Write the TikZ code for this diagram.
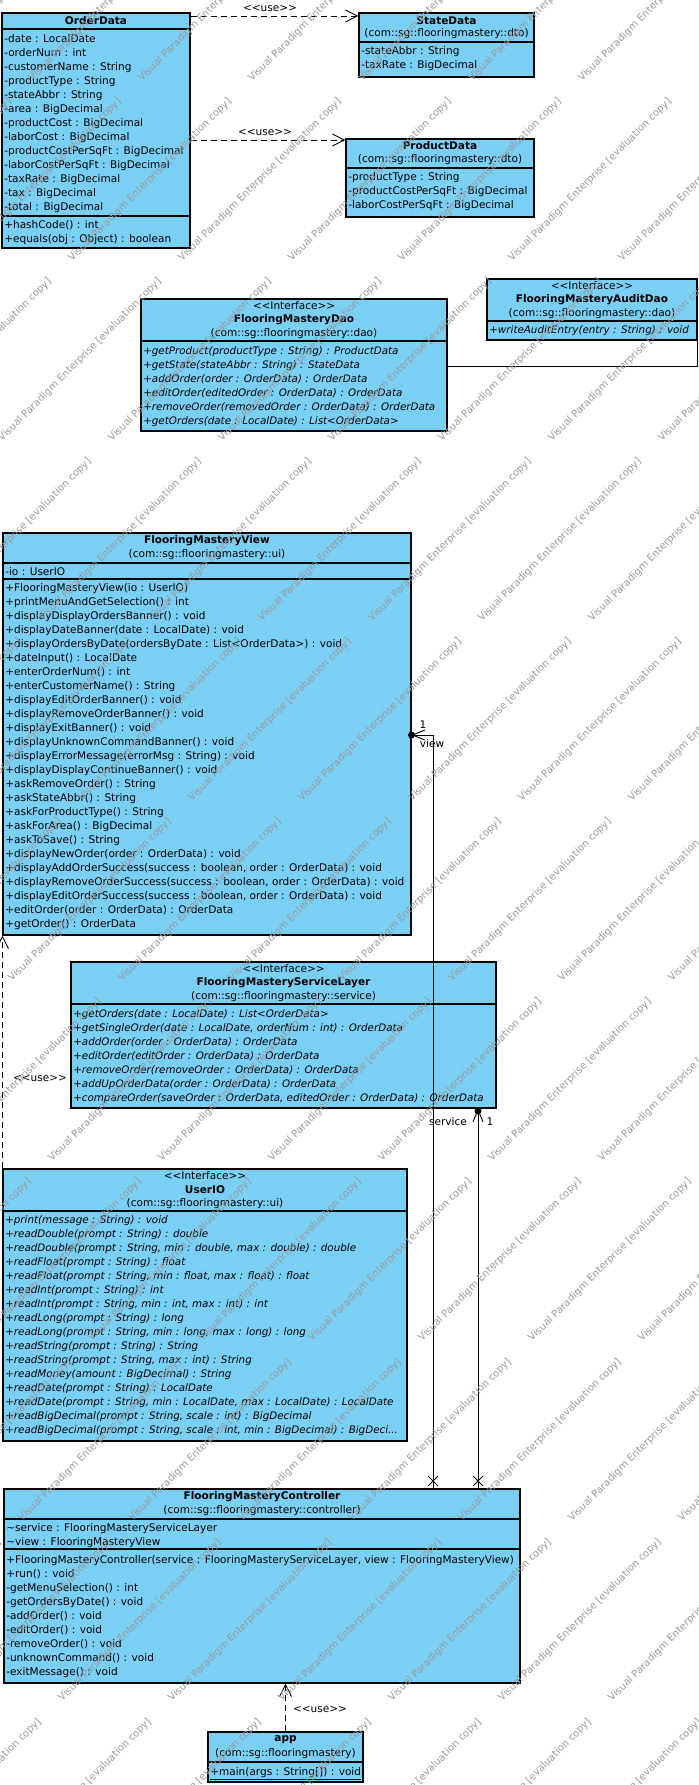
\documentclass[tikz,border=0pt]{standalone}
\usepackage{fontspec}
\setmainfont{DejaVu Sans}[Ligatures=TeXOff]
\usetikzlibrary{arrows.meta,fit,shapes.misc}
\definecolor{vpblue}{RGB}{122,207,245}

\begin{document}
\begin{tikzpicture}[x=0.75pt,y=0.75pt,yscale=-1,xscale=1,
  classbox/.style={draw=black, fill=vpblue, line width=0.8pt, inner sep=0pt},
  members/.style={anchor=north west, inner sep=0pt, align=left, font=\fontsize{7.9}{10.5}\selectfont},
  opmembers/.style={members, font=\fontsize{7.75}{10.5}\selectfont\itshape},
  headtext/.style={inner sep=0pt, font=\fontsize{7.9}{10.5}\selectfont},
  classname/.style={inner sep=0pt, font=\fontsize{7.9}{10.5}\selectfont\bfseries},
  usedep/.style={line width=0.7pt, dash pattern=on 4.5pt off 3pt, -{Straight Barb[length=9pt,width=9pt]}},
  assoc/.style={line width=0.7pt, -{Straight Barb[length=9pt,width=7.5pt]}},
  ownerdot/.style={circle, fill=black, inner sep=0pt, minimum size=5.25pt},
  navx/.style={cross out, draw=black, line width=0.7pt, inner sep=0pt, minimum size=6.75pt},
  wmark/.style={rotate=45, text=black!40, font=\fontsize{7.5}{8}\selectfont, inner sep=0pt}
]
\useasboundingbox (0,0) rectangle (699,1785);

% Shape: Rectangle -- OrderData
\node[classbox, fit={(2,13) (190,248)}] (orderdata) {};
\draw[line width=0.8pt] (2,29) -- (190,29);
\draw[line width=0.8pt] (2,216) -- (190,216);
\node[classname] (orderdata-name) at (96,21) {OrderData};
\node[members] (orderdata-attr) at (4,34) {-date : LocalDate\\-orderNum : int\\-customerName : String\\-productType : String\\-stateAbbr : String\\-area : BigDecimal\\-productCost : BigDecimal\\-laborCost : BigDecimal\\-productCostPerSqFt : BigDecimal\\-laborCostPerSqFt : BigDecimal\\-taxRate : BigDecimal\\-tax : BigDecimal\\-total : BigDecimal};
\node[members] (orderdata-ops) at (4,220) {+hashCode() : int\\+equals(obj : Object) : boolean};

% Shape: Rectangle -- StateData
\node[classbox, fit={(359,13) (534,77)}] (statedata) {};
\draw[line width=0.8pt] (359,42) -- (534,42);
\node[classname] (statedata-name) at (446.5,21) {StateData};
\node[headtext] (statedata-pkg) at (446.5,34) {(com::sg::flooringmastery::dto)};
\node[members] (statedata-attr) at (361,46) {-stateAbbr : String\\-taxRate : BigDecimal};

% Shape: Rectangle -- ProductData
\node[classbox, fit={(346,139) (534,217)}] (productdata) {};
\draw[line width=0.8pt] (346,168) -- (534,168);
\node[classname] (productdata-name) at (440,146) {ProductData};
\node[headtext] (productdata-pkg) at (440,160) {(com::sg::flooringmastery::dto)};
\node[members] (productdata-attr) at (348,172) {-productType : String\\-productCostPerSqFt : BigDecimal\\-laborCostPerSqFt : BigDecimal};

% Shape: Rectangle -- FlooringMasteryDao
\node[classbox, fit={(141,299) (447,431)}] (dao) {};
\draw[line width=0.8pt] (141,341) -- (447,341);
\node[headtext] (dao-stereo) at (294,306) {<<Interface>>};
\node[classname] (dao-name) at (294,320) {FlooringMasteryDao};
\node[headtext] (dao-pkg) at (294,334) {(com::sg::flooringmastery::dao)};
\node[opmembers] (dao-ops) at (143,346) {+getProduct(productType : String) : ProductData\\+getState(stateAbbr : String) : StateData\\+addOrder(order : OrderData) : OrderData\\+editOrder(editedOrder : OrderData) : OrderData\\+removeOrder(removedOrder : OrderData) : OrderData\\+getOrders(date : LocalDate) : List<OrderData>};

% Shape: Rectangle -- FlooringMasteryAuditDao
\node[classbox, fit={(487,279) (697,340)}] (auditdao) {};
\draw[line width=0.8pt] (487,321) -- (697,321);
\node[headtext] (auditdao-stereo) at (592,286) {<<Interface>>};
\node[classname] (auditdao-name) at (592,300) {FlooringMasteryAuditDao};
\node[headtext] (auditdao-pkg) at (592,314) {(com::sg::flooringmastery::dao)};
\node[opmembers] (auditdao-ops) at (489,325) {+writeAuditEntry(entry : String) : void};

% Shape: Rectangle -- FlooringMasteryView
\node[classbox, fit={(3,533) (411,935)}] (view) {};
\draw[line width=0.8pt] (3,563) -- (411,563);
\draw[line width=0.8pt] (3,579) -- (411,579);
\node[classname] (view-name) at (207,541) {FlooringMasteryView};
\node[headtext] (view-pkg) at (207,555) {(com::sg::flooringmastery::ui)};
\node[members] (view-attr) at (5,567) {-io : UserIO};
\node[members] (view-ops) at (5,583) {+FlooringMasteryView(io : UserIO)\\+printMenuAndGetSelection() : int\\+displayDisplayOrdersBanner() : void\\+displayDateBanner(date : LocalDate) : void\\+displayOrdersByDate(ordersByDate : List<OrderData>) : void\\+dateInput() : LocalDate\\+enterOrderNum() : int\\+enterCustomerName() : String\\+displayEditOrderBanner() : void\\+displayRemoveOrderBanner() : void\\+displayExitBanner() : void\\+displayUnknownCommandBanner() : void\\+displayErrorMessage(errorMsg : String) : void\\+displayDisplayContinueBanner() : void\\+askRemoveOrder() : String\\+askStateAbbr() : String\\+askForProductType() : String\\+askForArea() : BigDecimal\\+askToSave() : String\\+displayNewOrder(order : OrderData) : void\\+displayAddOrderSuccess(success : boolean, order : OrderData) : void\\+displayRemoveOrderSuccess(success : boolean, order : OrderData) : void\\+displayEditOrderSuccess(success : boolean, order : OrderData) : void\\+editOrder(order : OrderData) : OrderData\\+getOrder() : OrderData};

% Shape: Rectangle -- FlooringMasteryServiceLayer
\node[classbox, fit={(71,962) (496,1108)}] (servicelayer) {};
\draw[line width=0.8pt] (71,1004) -- (496,1004);
\node[headtext] (servicelayer-stereo) at (283.5,969) {<<Interface>>};
\node[classname] (servicelayer-name) at (283.5,983) {FlooringMasteryServiceLayer};
\node[headtext] (servicelayer-pkg) at (283.5,997) {(com::sg::flooringmastery::service)};
\node[opmembers] (servicelayer-ops) at (73,1009) {+getOrders(date : LocalDate) : List<OrderData>\\+getSingleOrder(date : LocalDate, orderNum : int) : OrderData\\+addOrder(order : OrderData) : OrderData\\+editOrder(editOrder : OrderData) : OrderData\\+removeOrder(removeOrder : OrderData) : OrderData\\+addUpOrderData(order : OrderData) : OrderData\\+compareOrder(saveOrder : OrderData, editedOrder : OrderData) : OrderData};

% Shape: Rectangle -- UserIO
\node[classbox, fit={(3,1169) (407,1441)}] (userio) {};
\draw[line width=0.8pt] (3,1211) -- (407,1211);
\node[headtext] (userio-stereo) at (205,1176) {<<Interface>>};
\node[classname] (userio-name) at (205,1190) {UserIO};
\node[headtext] (userio-pkg) at (205,1204) {(com::sg::flooringmastery::ui)};
\node[opmembers] (userio-ops) at (5,1215) {+print(message : String) : void\\+readDouble(prompt : String) : double\\+readDouble(prompt : String, min : double, max : double) : double\\+readFloat(prompt : String) : float\\+readFloat(prompt : String, min : float, max : float) : float\\+readInt(prompt : String) : int\\+readInt(prompt : String, min : int, max : int) : int\\+readLong(prompt : String) : long\\+readLong(prompt : String, min : long, max : long) : long\\+readString(prompt : String) : String\\+readString(prompt : String, max : int) : String\\+readMoney(amount : BigDecimal) : String\\+readDate(prompt : String) : LocalDate\\+readDate(prompt : String, min : LocalDate, max : LocalDate) : LocalDate\\+readBigDecimal(prompt : String, scale : int) : BigDecimal\\+readBigDecimal(prompt : String, scale : int, min : BigDecimal) : BigDeci...};

% Shape: Rectangle -- FlooringMasteryController
\node[classbox, fit={(4,1489) (520,1683)}] (controller) {};
\draw[line width=0.8pt] (4,1519) -- (520,1519);
\draw[line width=0.8pt] (4,1549) -- (520,1549);
\node[classname] (controller-name) at (262,1497) {FlooringMasteryController};
\node[headtext] (controller-pkg) at (262,1511) {(com::sg::flooringmastery::controller)};
\node[members] (controller-attr) at (6,1523) {\textasciitilde service : FlooringMasteryServiceLayer\\\textasciitilde view : FlooringMasteryView};
\node[members] (controller-ops) at (6,1555) {+FlooringMasteryController(service : FlooringMasteryServiceLayer, view : FlooringMasteryView)\\+run() : void\\-getMenuSelection() : int\\-getOrdersByDate() : void\\-addOrder() : void\\-editOrder() : void\\-removeOrder() : void\\-unknownCommand() : void\\-exitMessage() : void};

% Shape: Rectangle -- app
\node[classbox, fit={(208,1732) (363,1782)}] (app) {};
\draw[line width=0.8pt] (208,1762) -- (363,1762);
\node[classname] (app-name) at (285.5,1740) {app};
\node[headtext] (app-pkg) at (285.5,1754) {(com::sg::flooringmastery)};
\node[members] (app-ops) at (210,1767) {\underline{+main(args : String[]) : void}};

% Straight Lines -- dependencies
\coordinate (sdlevel) at (0,16);
\coordinate (pdlevel) at (0,140);
\draw[usedep] (orderdata.east |- sdlevel) -- (statedata.west |- sdlevel);
\node[headtext] (use-sd) at (270,9) {<<use>>};
\draw[usedep] (orderdata.east |- pdlevel) -- (productdata.west |- pdlevel);
\node[headtext] (use-pd) at (265,133) {<<use>>};
\draw[usedep] (userio.north west) -- (view.south west);
\node[headtext] (use-io) at (40,1078) {<<use>>};
\draw[usedep] (app.north) -- (app.north |- controller.south);
\node[headtext] (use-app) at (320,1709) {<<use>>};

% Straight Lines -- Dao to AuditDao
\coordinate (daolevel) at (0,366);
\draw[line width=0.7pt] (dao.east |- daolevel) -| (auditdao.south east);

% Straight Lines -- associations
\coordinate (viewbend) at (433,735);
\draw[assoc] (controller.north -| viewbend) |- (view.east |- viewbend);
\node[ownerdot] (viewdot) at (view.east |- viewbend) {};
\node[navx] (viewx) at (433,1481) {};
\node[headtext] (view-mult) at (423,725) {1};
\node[headtext] (view-role) at (432,744) {view};

\coordinate (servcol) at (478,0);
\draw[assoc] (controller.north -| servcol) -- (servicelayer.south -| servcol);
\node[ownerdot] (servdot) at (478,1111) {};
\node[navx] (servx) at (478,1481) {};
\node[headtext] (serv-role) at (448,1122) {service};
\node[headtext] (serv-mult) at (490,1122) {1};

% Text -- evaluation watermark
\begin{scope}
\clip (0,0) rectangle (699,1785);
\foreach \r in {0,...,10}{
  \foreach \c in {-1,...,6}{
    \pgfmathsetmacro{\wx}{110*\c+mod(40*\r,110)}
    \node[wmark] (wm-\r-\c) at (\wx,180*\r) {Visual Paradigm Enterprise [evaluation copy]};
  }
}
\end{scope}

\end{tikzpicture}
\end{document}
